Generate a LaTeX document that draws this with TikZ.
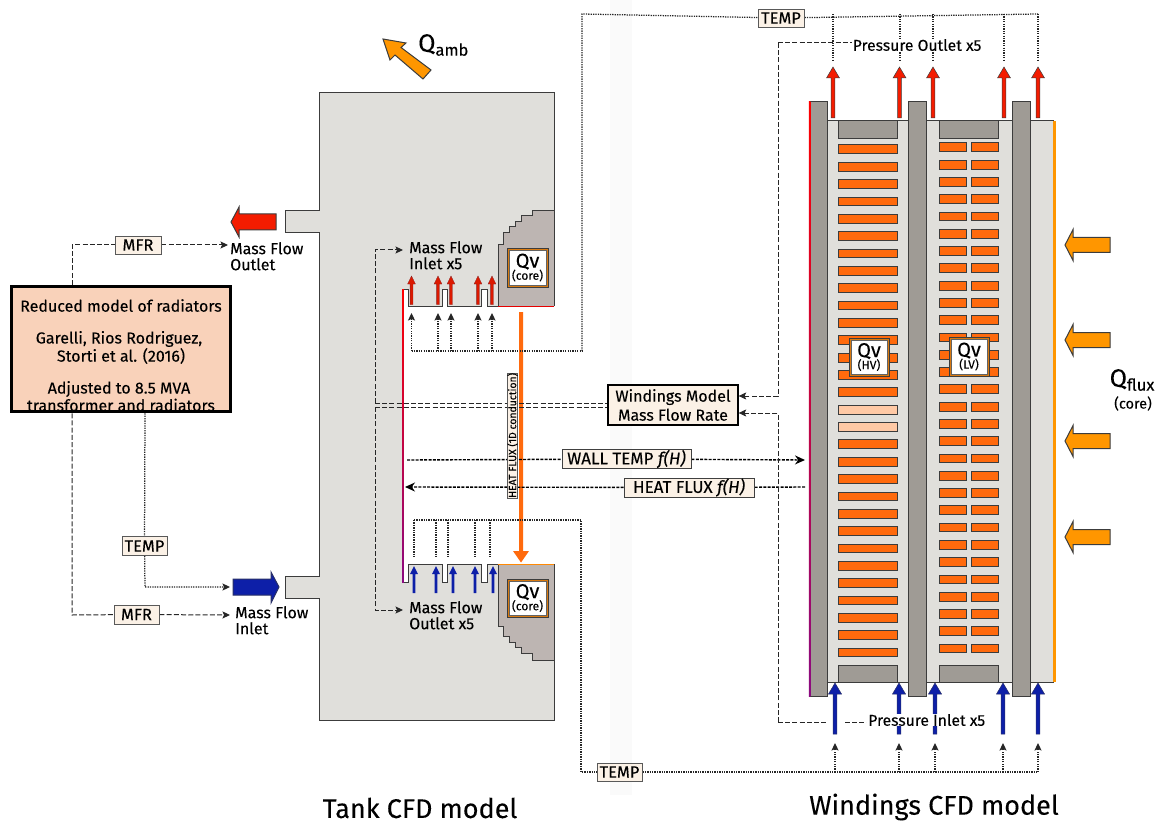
\documentclass[tikz,border=0pt]{standalone}
\usepackage{fontspec}
\setmainfont{Fira Sans}[FakeBold=0.12]
\usetikzlibrary{arrows.meta,calc}
\pgfdeclarelayer{shapes}
\pgfdeclarelayer{conn}
\pgfsetlayers{shapes,conn,main}
\definecolor{tankc}{HTML}{E0DFDB}
\definecolor{corec}{HTML}{BDB5B2}
\definecolor{wallc}{HTML}{9F9B95}
\definecolor{edgec}{HTML}{3C3C3C}
\definecolor{coilc}{HTML}{FF6A0D}
\definecolor{palec}{HTML}{FFC9A5}
\definecolor{qorange}{HTML}{FF9600}
\definecolor{boxc}{HTML}{FBF1E6}
\definecolor{radc}{HTML}{F9D2BA}
\definecolor{redarr}{HTML}{F41C00}
\definecolor{bluearr}{HTML}{0D1FA8}
\definecolor{framec}{HTML}{D97A10}
\definecolor{purp}{HTML}{8B0A80}
\definecolor{bandc}{HTML}{FAFAFA}
\tikzset{
 lab/.style={draw=black!65,fill=boxc,line width=0.9pt,inner sep=0pt,text=black,font=\fontsize{16.5}{17}\selectfont,anchor=center},
 plain/.style={inner sep=0pt,text=black,align=left,font=\fontsize{16}{16.5}\selectfont},
 dashc/.style={line width=1pt,draw=black!85,dash pattern=on 5pt off 2.2pt},
 dotc/.style={line width=1.25pt,draw=black!85,dash pattern=on 1.3pt off 1.1pt},
 widec/.style={line width=1.4pt,draw=black,dash pattern=on 3pt off 1.3pt},
 tipc/.style={-{Stealth[length=7.5pt,width=7pt,inset=1.5pt]}},
 coil/.style={draw=edgec,line width=1pt,fill=coilc},
 blockred/.style={fill=redarr,draw=edgec,line width=0.5pt,line join=miter},
 blockblue/.style={fill=bluearr,draw=edgec!60!bluearr,line width=0.5pt},
 blockq/.style={fill=qorange,draw=edgec,line width=1pt},
 tankline/.style={draw=edgec,line width=1pt}
}
\newcommand{\arrup}[4]{% x, tip y, base y, style
 \path[#4] (#1-1.9,#3) -- (#1-1.9,#2+11) -- (#1-6.5,#2+11) -- (#1,#2) -- (#1+6.5,#2+11) -- (#1+1.9,#2+11) -- (#1+1.9,#3) -- cycle;}
\newcommand{\qvmark}[6]{% name, x1, y1, x2, y2, sublabel
 \fill[framec] (#2,#3) rectangle (#4,#5);
 \fill[white] (#2+2.2,#3+2.2) rectangle (#4-2.2,#5-2.2);
 \draw[edgec,line width=0.5pt] (#2,#3) rectangle (#4,#5);
 \draw[edgec!80,line width=0.4pt] (#2+2.2,#3+2.2) rectangle (#4-2.2,#5-2.2);
 \node[inner sep=0pt,align=center] (#1) at ({(#2+#4)/2},{(#3+#5)/2}) {{\fontsize{20}{17}\selectfont Qv}\\[-1pt]{\fontsize{12}{10}\selectfont (#6)}};}
\begin{document}
\begin{tikzpicture}[x=1pt,y=-1pt]
\useasboundingbox (0,0) rectangle (1161,826);

%=============== nodes ===============
\node[lab,minimum width=130pt,minimum height=40pt,align=center,line width=1.3pt,draw=black,font=\fontsize{16}{19}\selectfont] (wmfr) at (673,405) {Windings Model\\Mass Flow Rate};
\node[lab,minimum width=46pt,minimum height=18pt] (mfrt) at (138,245) {MFR};
\node[lab,minimum width=45pt,minimum height=19pt] (mfrb) at (136.5,614.5) {MFR};
\node[lab,minimum width=45pt,minimum height=19pt] (tempL) at (144.5,546) {TEMP};
\node[lab,minimum width=46pt,minimum height=18pt] (tempT) at (781,18) {TEMP};
\node[lab,minimum width=45pt,minimum height=18pt] (tempB) at (619.5,772) {TEMP};
\node[lab,minimum width=129pt,minimum height=19pt,draw=black!75,font=\fontsize{17}{17}\selectfont] (wall) at (626.5,459) {WALL TEMP \textit{f(H)}};
\node[lab,minimum width=130pt,minimum height=19pt,draw=black!75,font=\fontsize{17}{17}\selectfont] (flux) at (689,487.5) {HEAT FLUX \textit{f(H)}};
\node[lab,minimum width=117pt,minimum height=10.5pt,rotate=90,font=\fontsize{10.4}{10.4}\selectfont] (cond) at (512.5,435.5) {HEAT FLUX (1D conduction)};
\node[draw=black,line width=3.5pt,fill=radc,minimum width=219pt,minimum height=125pt,inner sep=0pt] (rad) at (121,349) {};
\node[inner sep=0pt] (r1) at (121,305.5) {\fontsize{16}{17}\selectfont Reduced model of radiators};
\node[inner sep=0pt] (r2) at (119,339) {\fontsize{16}{17}\selectfont Garelli, Rios Rodriguez,};
\node[inner sep=0pt] (r3) at (121,356) {\fontsize{16}{17}\selectfont Storti et al. (2016)};
\node[inner sep=0pt] (r4) at (119,389) {\fontsize{16}{17}\selectfont Adjusted to 8.5 MVA};
\node[inner sep=0pt] (r5) at (121,405) {\fontsize{16}{17}\selectfont transformer and radiators};
\node[plain,anchor=west,fill=white,inner xsep=1pt] (pout) at (851.5,45) {\fontsize{15.7}{16}\selectfont Pressure Outlet x5};
\node[plain,anchor=west,fill=white,inner xsep=1pt] (pin) at (867,720) {\fontsize{15.7}{16}\selectfont Pressure Inlet x5};
\node[plain,anchor=north west] (mfo) at (230,242) {Mass Flow\\[-0.5pt]Outlet};
\node[plain,anchor=north west] (mfi) at (235,606) {Mass Flow\\[-0.5pt]Inlet};
\node[plain,anchor=north west] (mfix) at (409,241) {Mass Flow\\[-0.5pt]Inlet x5};
\node[plain,anchor=north west] (mfox) at (409,601) {Mass Flow\\[-0.5pt]Outlet x5};
\node[inner sep=0pt,anchor=center,font=\fontsize{27}{28}\selectfont] (tcfd) at (420,808) {Tank CFD model};
\node[inner sep=0pt,anchor=center,font=\fontsize{27}{28}\selectfont] (wcfd) at (934,807) {Windings CFD model};
\node[inner sep=0pt,anchor=west] (qamb) at (418,45) {{\fontsize{25}{26}\selectfont Q}\raisebox{-4pt}{\fontsize{16.5}{17}\selectfont amb}};
\node[inner sep=0pt,anchor=west] (qflux) at (1109.5,380) {{\fontsize{25}{26}\selectfont Q}\raisebox{-4pt}{\fontsize{16.5}{17}\selectfont flux}};
\node[inner sep=0pt] (qcore) at (1133,403.5) {\fontsize{14.5}{15}\selectfont (core)};
\qvmark{qv1}{507}{248}{548}{287}{core}
\qvmark{qv2}{507}{579}{548}{617}{core}
\qvmark{qv3}{849}{338}{889}{376}{HV}
\qvmark{qv4}{949}{337}{989}{376}{LV}

%=============== named free ends ===============
\foreach \n/\xa/\ya in {mo/228/245, mi/230/615, ti/230/587, mfa/403/250, mfb/403/610, wa/805/460, wb/405/487, fe/805/487,
  wma/778/396, wmb/778/413, ca/375/403, cb/375/407, ct/375/250, cbb/375/610,
  pa/778/43, pb/778/722, d1/582/351, d2/582/14, d3/581/520, d4/581/772, gapa/828/722, gapb/845/722,
  wl/407/460, ml/72/245, mb/72/615, tl/145/587}
  \coordinate (\n) at (\xa,\ya);

%=============== connectors ===============
\begin{pgfonlayer}{conn}
\draw[dashc,tipc] (rad.north -| ml) -- (ml) -- (mfrt) -- (mo);
\draw[dashc,tipc] (rad.south -| mb) -- (mb) -- (mfrb) -- (mi);
\draw[dotc,tipc] (rad.south -| tl) -- (tempL) -- (tl) -- (ti);
\draw[dashc,tipc] (ca) -- (ct) -- (mfa);
\draw[dashc,tipc] (cb) -- (cbb) -- (mfb);
\draw[dashc] (ca) -- (ca -| wmfr.west);
\draw[dashc] (cb) -- (cb -| wmfr.west);
\draw[widec,-{Stealth[length=10pt,width=9pt]}] (wl) -- (wall) -- (wa);
\draw[widec,-{Stealth[length=10pt,width=9pt]}] (fe) -- (flux) -- (wb);
\draw[dashc,tipc] (pa) -- (wma) -- (wma -| wmfr.east);
\draw[dashc,tipc] (pb) -- (wmb) -- (wmb -| wmfr.east);
\draw[dashc] (pa) -- (pa -| pout.west);
\draw[dashc] (pb) -- (gapa);
\draw[dashc] (gapb) -- (pb -| pin.west);
% temperature lines, tank outlet side to windings outlets
\draw[dotc] (d1) -- (d2) -- (tempT) -- (1038,14);
\draw[dotc] (411.5,351) -- (d1);
\foreach \x/\k in {411.5/1,438/2,451/3,478/4,492/5}{
  \coordinate (ti\k) at (\x,351);
  \coordinate (tj\k) at (\x,313);
  \draw[dotc,tipc] (ti\k) -- (tj\k);
}
\foreach \x/\k in {833/1,900/2,933/3,1004/4,1038/5}{
  \coordinate (to\k) at (\x,14);
  \coordinate (tp\k) at (\x,60);
  \draw[dotc] (to\k) -- (tp\k);
}
% temperature lines, windings outlet side to tank
\draw[dotc] (414,520) -- (d3) -- (d4) -- (tempB) -- (1038,772);
\foreach \x/\k in {414/1,436/2,448/3,475/4,490/5}{
  \coordinate (tq\k) at (\x,520);
  \coordinate (tr\k) at (\x,557);
  \draw[dotc] (tq\k) -- (tr\k);
}
\foreach \x/\k in {835/1,899/2,935/3,1003/4,1038/5}{
  \coordinate (ts\k) at (\x,772);
  \coordinate (tt\k) at (\x,743);
  \draw[dotc,tipc] (ts\k) -- (tt\k);
}
\end{pgfonlayer}

%=============== drawn shapes ===============
\begin{pgfonlayer}{shapes}
\fill[bandc] (610,0) rectangle (632,795);
% tank
\path[fill=tankc] (319,93) -- (554,93) -- (554,720) -- (319,720) -- (319,598) -- (285,598) -- (285,576) -- (319,576) -- (319,233) -- (285,233) -- (285,211) -- (319,211) -- cycle;
% open region between the two tank cores
\fill[white] (403,289) -- (408,289) -- (408,306) -- (442,306) -- (442,289) -- (447,289) -- (447,306) -- (481,306) -- (481,289) -- (487,289) -- (487,306) -- (555,306) -- (555,564) -- (487,564) -- (487,582) -- (481,582) -- (481,564) -- (447,564) -- (447,582) -- (442,582) -- (442,564) -- (408,564) -- (408,582) -- (403,582) -- cycle;
% core top
\path[fill=corec] (554,211) -- (532,211) -- (532,216) -- (521,216) -- (521,222) -- (515,222) -- (515,227) -- (509,227) -- (509,233) -- (503,233) -- (503,245) -- (498,245) -- (498,306) -- (554,306) -- cycle;
\path[fill=corec] (554,660) -- (532,660) -- (532,653) -- (521,653) -- (521,647) -- (515,647) -- (515,642) -- (509,642) -- (509,636) -- (503,636) -- (503,626) -- (498,626) -- (498,564) -- (554,564) -- cycle;
% tank outline
\draw[tankline] (403,289) -- (408,289) -- (408,306) -- (442,306) -- (442,289) -- (447,289) -- (447,306) -- (481,306) -- (481,289) -- (487,289) -- (487,306) -- (498,306);
\draw[tankline] (403,582) -- (408,582) -- (408,564) -- (442,564) -- (442,582) -- (447,582) -- (447,564) -- (481,564) -- (481,582) -- (487,582) -- (487,564) -- (498,564);
\draw[tankline] (554,306) -- (554,93) -- (319,93) -- (319,211) -- (285,211) -- (285,233) -- (319,233) -- (319,576) -- (285,576) -- (285,598) -- (319,598) -- (319,720) -- (554,720) -- (554,564);
\draw[tankline] (554,211) -- (532,211) -- (532,216) -- (521,216) -- (521,222) -- (515,222) -- (515,227) -- (509,227) -- (509,233) -- (503,233) -- (503,245) -- (498,245) -- (498,306);
\draw[tankline] (554,660) -- (532,660) -- (532,653) -- (521,653) -- (521,647) -- (515,647) -- (515,642) -- (509,642) -- (509,636) -- (503,636) -- (503,626) -- (498,626) -- (498,564);
\draw[red!90!black,line width=1pt] (498,306) -- (554,306);
\draw[qorange!70!coilc,line width=1pt] (498,564) -- (554,564);
\shade[top color=red,middle color=red!90!purp,bottom color=purp] (402.2,289) rectangle (403.8,582);
% tank small arrows
\foreach \x in {411.5,438,451,478,492}{
  \path[fill=redarr!90!black,draw=edgec!60!red,line width=0.3pt] (\x-1.4,304.5) -- (\x-1.4,284) -- (\x-3.9,284) -- (\x,276) -- (\x+3.9,284) -- (\x+1.4,284) -- (\x+1.4,304.5) -- cycle;
}
\foreach \x in {414,436,453,475,493}{
  \path[fill=bluearr] (\x-1.4,593) -- (\x-1.4,574) -- (\x-3.9,574) -- (\x,566) -- (\x+3.9,574) -- (\x+1.4,574) -- (\x+1.4,593) -- cycle;
}
% windings
\fill[tankc] (827,121) rectangle (1054,682);
\draw[tankline] (827,121) -- (1054,121);
\draw[tankline] (827,682) -- (1054,682);
\foreach \xa/\xb in {810/827,908/926,1012/1030}{
  \draw[fill=wallc,draw=edgec,line width=1pt] (\xa,102) rectangle (\xb,696);
}
\shade[top color=red,middle color=red!85!purp,bottom color=purp] (808.8,102) rectangle (810.4,696);
\fill[qorange] (1052.5,121) rectangle (1055.5,682);
\foreach \xa in {838,939}{
  \draw[fill=wallc,draw=edgec,line width=1pt] (\xa,121) rectangle (\xa+59,138.5);
  \draw[fill=wallc,draw=edgec,line width=1pt] (\xa,665) rectangle (\xa+59,682);
}
\foreach \i in {0,...,29}{
  \pgfmathsetmacro{\yy}{145+\i*17.35}
  \ifnum\i=15 \draw[coil,fill=palec] (838,\yy) rectangle (897,\yy+8.8);
  \else\ifnum\i=16 \draw[coil,fill=palec] (838,\yy) rectangle (897,\yy+8.8);
  \else \draw[coil] (838,\yy) rectangle (897,\yy+8.8);
  \fi\fi
  \pgfmathsetmacro{\yz}{143+\i*17.28}
  \draw[coil] (939,\yz) rectangle (966,\yz+8.8);
  \draw[coil] (971,\yz) rectangle (998,\yz+8.8);
}
% red / blue windings arrows
\foreach \x in {833,899.5,933,1004,1038}{ \arrup{\x}{67}{118}{blockred} }
\foreach \x in {835,899,935,1003,1038}{ \arrup{\x}{683}{734}{blockblue} }
% core heat arrow
\path[fill=coilc] (519,312) -- (523,312) -- (523,551) -- (529,551) -- (521,562.5) -- (513,551) -- (519,551) -- cycle;
% outlet / inlet block arrows
\path[blockred,line width=1pt] (276,214) -- (239,214) -- (239,207) -- (231,222) -- (239,237) -- (239,230) -- (276,230) -- cycle;
\path[blockblue,line width=1pt] (233,579) -- (271,579) -- (271,572) -- (279,587) -- (271,603) -- (271,595) -- (233,595) -- cycle;
% ambient heat arrow
\path[blockq] (383,39) -- (406,43) -- (401,47.5) -- (431,70) -- (423,79) -- (395,55) -- (390,60) -- cycle;
% core flux arrows
\foreach \y in {245,340,441,537}{
  \path[blockq] (1110,\y-7.5) -- (1073,\y-7.5) -- (1073,\y-15.5) -- (1065,\y) -- (1073,\y+15.5) -- (1073,\y+7.5) -- (1110,\y+7.5) -- cycle;
}
\end{pgfonlayer}
\end{tikzpicture}
\end{document}
